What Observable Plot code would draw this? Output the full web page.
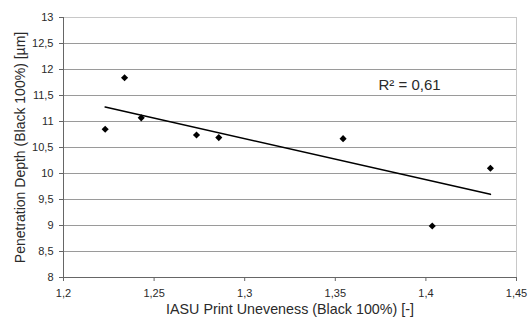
<!DOCTYPE html>
<html>
<head>
<meta charset="utf-8">
<script src="https://cdn.jsdelivr.net/npm/d3@7"></script>
<script src="https://cdn.jsdelivr.net/npm/@observablehq/plot@0.6"></script>
<style>
  html, body { margin: 0; padding: 0; background: #fff; }
  svg { font-family: "Liberation Sans", Arial, sans-serif; }
</style>
</head>
<body>
<div id="chart"></div>
<script>
const xValues = [1.223, 1.2337, 1.2429, 1.2734, 1.2857, 1.3543, 1.4035, 1.4356];
const yValues = [10.85, 11.84, 11.07, 10.74, 10.69, 10.67, 8.99, 10.10];
const xTicks = [1.2, 1.25, 1.3, 1.35, 1.4, 1.45];
const yTicks = [8, 8.5, 9, 9.5, 10, 10.5, 11, 11.5, 12, 12.5, 13];
const annotation = [{x: 1.391, y: 11.70, label: "R² = 0,61"}];

const data = xValues.map((x, i) => ({x, y: yValues[i]}));
const fmt = d => String(d).replace(".", ",");

const chart = Plot.plot({
  width: 529,
  height: 323,
  marginLeft: 63,
  marginRight: 13,
  marginTop: 17,
  marginBottom: 46,
  style: {fontFamily: "Liberation Sans, Arial, sans-serif", fontSize: "11px", color: "#2a2a2a"},
  x: {domain: [1.2, 1.45], ticks: xTicks, tickFormat: fmt, label: null},
  y: {domain: [8, 13], ticks: yTicks, tickFormat: fmt, label: null},
  marks: [
    Plot.ruleY(yTicks, {stroke: "#9a9a9a", strokeWidth: 1}),
    Plot.ruleX([1.45], {stroke: "#c8c8c8"}),
    Plot.ruleY([13], {stroke: "#c8c8c8"}),
    Plot.axisX({ticks: xTicks, tickFormat: fmt, tickSize: 4, tickPadding: 8, stroke: "#666", fontSize: 11, label: null}),
    Plot.axisY({ticks: yTicks, tickFormat: fmt, tickSize: 4, tickPadding: 6, stroke: "#666", fontSize: 11, label: null}),
    Plot.ruleX([1.2], {stroke: "#666"}),
    Plot.ruleY([8], {stroke: "#666"}),
    Plot.linearRegressionY(data, {x: "x", y: "y", ci: 0, stroke: "#000", strokeWidth: 1.6}),
    Plot.dot(data, {x: "x", y: "y", symbol: "diamond2", r: 3.2, fill: "#000", stroke: "none"}),
    Plot.text(annotation, {x: "x", y: "y", text: "label", fontSize: 15, fill: "#2a2a2a"}),
    Plot.text(["IASU Print Uneveness (Black 100%) [-]"], {frameAnchor: "bottom", dy: 36, fontSize: 14.3, fill: "#2a2a2a"}),
    Plot.text(["Penetration Depth (Black 100%) [µm]"], {frameAnchor: "left", textAnchor: "middle", dx: -43, rotate: -90, fontSize: 14, fill: "#2a2a2a"})
  ]
});
document.getElementById("chart").appendChild(chart);
</script>
</body>
</html>
